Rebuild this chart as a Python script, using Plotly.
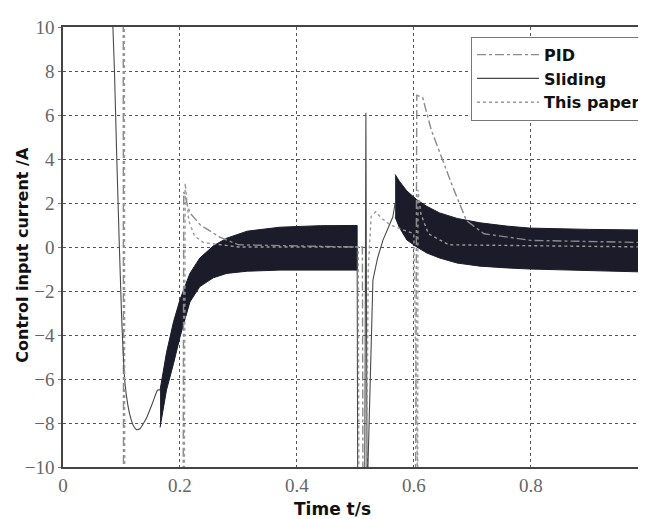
import plotly.graph_objects as go

# ---------------- data ----------------
x_ticks = [0, 0.2, 0.4, 0.6, 0.8]
y_ticks = [-10, -8, -6, -4, -2, 0, 2, 4, 6, 8, 10]

# PID (dash-dot)
pid_t = [0.103, 0.1035, 0.2055, 0.2065, 0.217, 0.235, 0.268, 0.30, 0.50, 0.512, 0.513,
         0.603, 0.605, 0.615, 0.630, 0.644, 0.667, 0.690, 0.72, 0.80, 1.0]
pid_y = [11, -11, -11, 2.5, 1.55, 1.0, 0.45, 0.1, 0.0, 0.0, -11,
         -11, 6.9, 6.8, 5.3, 4.3, 2.7, 1.2, 0.6, 0.3, 0.2]

# Sliding mode: thin transient line before the first chattering band
sl1_t = [0.084, 0.088, 0.092, 0.100, 0.106, 0.111, 0.115, 0.120, 0.126, 0.132, 0.138,
         0.144, 0.153, 0.162, 0.166]
sl1_y = [11, 8, 4, -3, -6.2, -7.2, -7.7, -8.1, -8.3, -8.25, -8.0,
         -7.7, -7.1, -6.5, -6.5]
# Sliding mode: thin transient line between the two bands
sl2_t = [0.503, 0.504, 0.516, 0.518, 0.520, 0.521, 0.530, 0.538, 0.547, 0.556, 0.564, 0.568]
sl2_y = [0.0, -11, -11, 6.1, -11, -10.5, -1.5, -0.5, 0.3, 0.9, 1.36, 2.0]

# Sliding mode chattering band envelopes
band1_t = [0.166, 0.177, 0.189, 0.200, 0.217, 0.234, 0.257, 0.280, 0.315, 0.371, 0.440, 0.503]
band1_up = [-6.5, -4.8, -3.4, -2.4, -1.2, -0.5, 0.05, 0.4, 0.72, 0.9, 0.97, 0.98]
band1_lo = [-8.2, -6.5, -5.3, -4.1, -2.5, -1.8, -1.4, -1.2, -1.1, -1.05, -1.05, -1.05]

band2_t = [0.568, 0.575, 0.588, 0.605, 0.622, 0.644, 0.674, 0.713, 0.759, 0.798, 0.90, 1.0]
band2_up = [3.3, 3.0, 2.55, 2.15, 1.85, 1.55, 1.3, 1.1, 0.95, 0.86, 0.8, 0.77]
band2_lo = [1.36, 0.9, 0.32, 0.0, -0.27, -0.5, -0.73, -0.87, -0.95, -1.0, -1.08, -1.14]

# This paper (dotted)
tp_t = [0.105, 0.1055, 0.2075, 0.209, 0.215, 0.225, 0.24, 0.30, 0.505, 0.506,
        0.519, 0.522, 0.527, 0.535, 0.545, 0.56, 0.60, 0.6065, 0.607, 0.612, 0.625, 0.66, 1.0]
tp_y = [11, -11, -11, 2.9, 1.2, 0.5, 0.2, 0.0, 0.0, -11,
        -11, -1.0, 1.4, 1.6, 1.3, 1.0, 0.6, -11, 2.6, 1.5, 0.6, 0.1, 0.0]

BAND = "#1b1b2a"
SL = "#4a4a4a"

fig = go.Figure()

for bt, bu, bl in [(band1_t, band1_up, band1_lo), (band2_t, band2_up, band2_lo)]:
    fig.add_trace(go.Scatter(
        x=list(bt) + list(bt)[::-1], y=list(bu) + list(bl)[::-1],
        fill="toself", fillcolor=BAND, mode="lines",
        line=dict(color=BAND, width=1), showlegend=False, hoverinfo="skip"))

fig.add_trace(go.Scatter(x=pid_t, y=pid_y, mode="lines", name="PID", legendgroup="a",
                         line=dict(color="#8a8a8a", width=1.4, dash="dashdot")))
fig.add_trace(go.Scatter(x=sl1_t, y=sl1_y, mode="lines", name="Sliding", legendgroup="b",
                         line=dict(color=SL, width=1.1, shape="spline", smoothing=0.6)))
fig.add_trace(go.Scatter(x=sl2_t, y=sl2_y, mode="lines", name="Sliding", legendgroup="b",
                         showlegend=False, line=dict(color=SL, width=1.1)))
fig.add_trace(go.Scatter(x=tp_t, y=tp_y, mode="lines", name="This paper", legendgroup="c",
                         line=dict(color="#9a9a9a", width=1.4, dash="dot")))

tickfont = dict(family="Liberation Serif", size=19, color="#666666")
bold = dict(family="DejaVu Sans", color="#111111", weight="bold")

# page body has an 8px margin -> figure is 638x511 placed at (8, 8)
fig.update_layout(
    width=638, height=511, autosize=False,
    margin=dict(l=55, r=0, t=19, b=52),
    paper_bgcolor="white", plot_bgcolor="white",
    showlegend=True,
    legend=dict(x=0.70, y=0.978, xanchor="left", yanchor="top",
                bgcolor="white", bordercolor="#777777", borderwidth=1,
                font=dict(size=16, **bold),
                itemwidth=62, tracegroupgap=0),
    xaxis=dict(range=[0, 0.997], tickvals=x_ticks, ticktext=[str(v) for v in x_ticks],
               showgrid=True, gridcolor="#555555", gridwidth=1, griddash="3px,3px",
               zeroline=False, showline=True, linecolor="#444444", linewidth=1.5,
               mirror=True, ticks="", tickfont=tickfont),
    yaxis=dict(range=[-10, 10], tickvals=y_ticks,
               showgrid=True, gridcolor="#555555", gridwidth=1, griddash="3px,3px",
               zeroline=False, showline=True, linecolor="#444444", linewidth=1.5,
               ticks="outside", ticklen=3, tickcolor="#777777", tickfont=tickfont),
    annotations=[
        dict(text="Time t/s", xref="paper", yref="paper", x=0.463, y=-0.095,
             xanchor="center", yanchor="middle", showarrow=False,
             font=dict(size=17, **bold)),
        dict(text="Control input current /A", xref="paper", yref="paper", x=-0.069, y=0.482,
             xanchor="center", yanchor="middle", showarrow=False, textangle=-90,
             font=dict(size=16, **bold)),
    ],
)

fig.write_html("out.html")
